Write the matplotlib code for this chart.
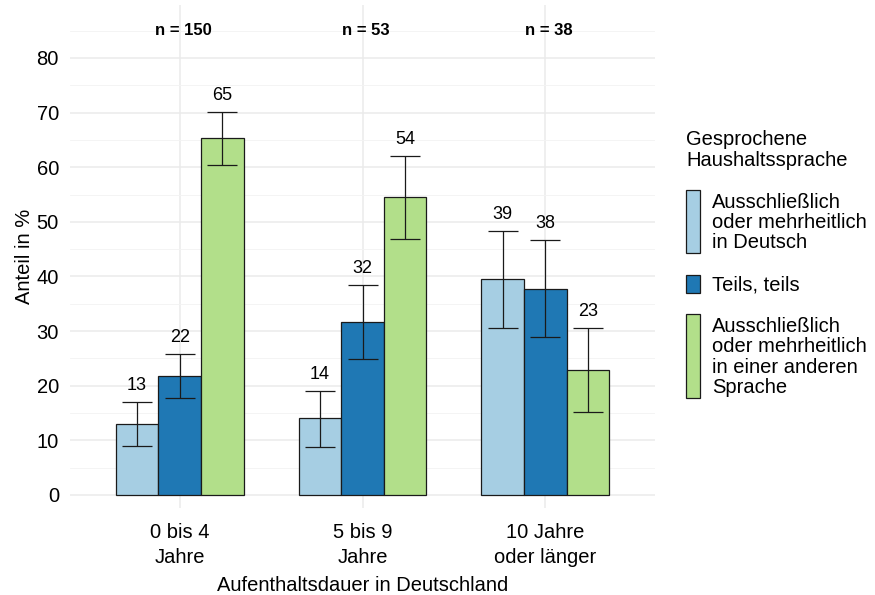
import matplotlib.pyplot as plt
from matplotlib.patches import Rectangle
import numpy as np

plt.rcParams['font.family'] = ['Liberation Sans', 'DejaVu Sans']

groups = ["0 bis 4\nJahre", "5 bis 9\nJahre", "10 Jahre\noder länger"]
n_labels = ["n = 150", "n = 53", "n = 38"]
series = ["Ausschließlich\noder mehrheitlich\nin Deutsch",
          "Teils, teils",
          "Ausschließlich\noder mehrheitlich\nin einer anderen\nSprache"]
colors = ["#A6CEE3", "#1F78B4", "#B2DF8A"]

values = [[13.0, 14.1, 39.5],
          [21.8, 31.7, 37.7],
          [65.3, 54.5, 22.9]]
lower = [[9.0, 8.8, 30.6],
         [17.8, 24.9, 28.9],
         [60.4, 46.9, 15.2]]
upper = [[17.0, 19.0, 48.3],
         [25.8, 38.4, 46.6],
         [70.1, 62.0, 30.6]]
labels = [["13", "14", "39"], ["22", "32", "38"], ["65", "54", "23"]]

W, H = 875, 595
FS = 14.5
fig = plt.figure(figsize=(W / 100, H / 100), dpi=100)
ax = fig.add_axes([70 / W, 1 - 508 / H, 585 / W, 503 / H])

x = np.arange(1, 4)
bw = 0.7 / 3
for i in range(3):
    xs = x + (i - 1) * bw
    v = np.array(values[i])
    ax.bar(xs, v, width=bw, color=colors[i], edgecolor="#1a1a1a", linewidth=0.9, zorder=3)
    err = [v - np.array(lower[i]), np.array(upper[i]) - v]
    ax.errorbar(xs, v, yerr=err, fmt="none", ecolor="#1a1a1a", elinewidth=0.9,
                capsize=11, capthick=0.9, zorder=4)
    for xx, up, lab in zip(xs, upper[i], labels[i]):
        ax.text(xx, up + 1.5, lab, ha="center", va="bottom", fontsize=13, zorder=5)

for xx, lab in zip(x, n_labels):
    ax.text(xx + 0.02, 85, lab, ha="center", va="center", fontsize=12, fontweight="bold")

ax.set_xlim(0.4, 3.6)
ax.set_ylim(-2.4, 89.7)
ax.set_yticks(np.arange(0, 81, 10))
ax.set_yticks(np.arange(5, 86, 10), minor=True)
ax.set_xticks(x)
ax.set_xticklabels(groups, fontsize=FS, linespacing=1.35)
ax.tick_params(axis="y", labelsize=FS, pad=8)
ax.tick_params(axis="x", pad=11)
ax.tick_params(which="both", length=0)
ax.grid(which="major", color="#EBEBEB", linewidth=1.1, zorder=0)
ax.grid(which="minor", axis="y", color="#F3F3F3", linewidth=0.6, zorder=0)
ax.set_axisbelow(True)
for s in ax.spines.values():
    s.set_visible(False)
ax.set_ylabel("Anteil in %", fontsize=FS, labelpad=2)
ax.set_xlabel("Aufenthaltsdauer in Deutschland", fontsize=FS, labelpad=7)

# legend, built by hand like ggplot's
def fy(py):
    return 1 - py / H

fig.text(686 / W, fy(130), "Gesprochene\nHaushaltssprache", fontsize=FS,
         va="top", ha="left", linespacing=1.1)
key_spans = [(190, 253), (275, 293), (314, 398)]
for (top, bot), c, lab in zip(key_spans, colors, series):
    fig.add_artist(Rectangle((686 / W, fy(bot)), 14 / W, (bot - top) / H,
                             transform=fig.transFigure, facecolor=c,
                             edgecolor="#1a1a1a", linewidth=0.9))
    fig.text(712 / W, fy((top + bot) / 2 + 1), lab, fontsize=FS, va="center",
             ha="left", linespacing=1.1)

fig.savefig("out.png", dpi=100)
